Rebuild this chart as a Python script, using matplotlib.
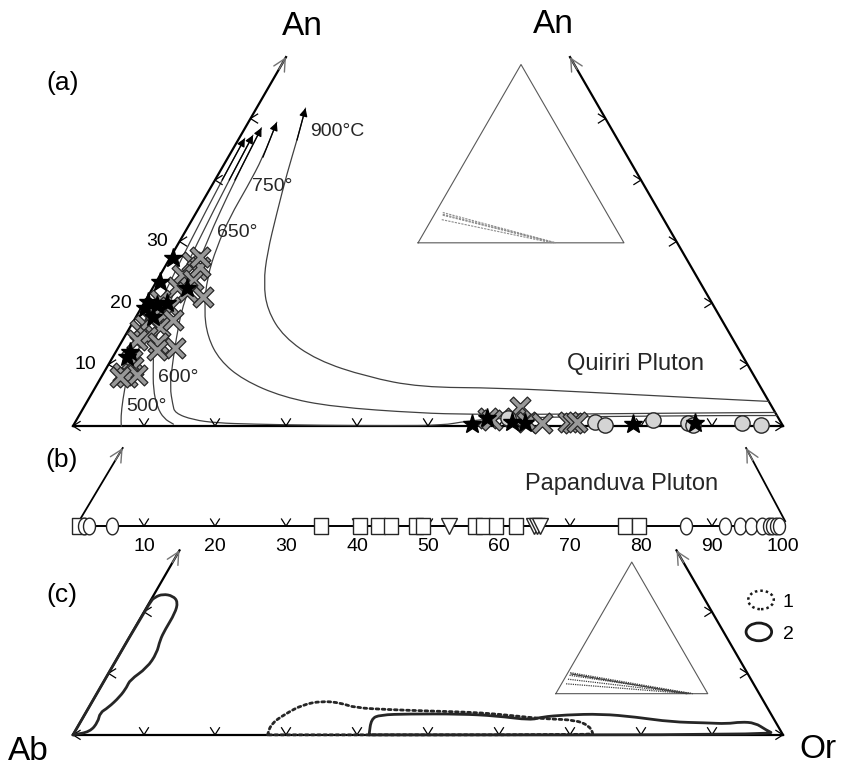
import numpy as np
import matplotlib
matplotlib.use('Agg')
import matplotlib.pyplot as plt
from matplotlib.patches import Ellipse, PathPatch
from matplotlib.path import Path

plt.rcParams['font.family'] = ['Liberation Sans', 'DejaVu Sans']

# ---------- data (mol %) ----------
# (a) Quiriri Pluton feldspars
x_an = [26.7, 25.4, 24.6, 23.7, 22.6, 21.8, 21.0, 20.5, 19.4, 18.5, 18.1, 17.6, 16.4, 15.6,
        16.1, 17.2, 14.5, 13.5, 14.0, 12.7, 12.4, 10.7, 9.6, 8.6, 8.0, 8.3, 8.0, 25.9, 27.5,
        1.3, 1.0, 3.1, 1.3, 0.65, 0.5, 0.65, 0.5, 0.65]
x_or = [3.4, 4.8, 3.05, 5.05, 3.35, 5.16, 7.8, 2.0, 3.96, 2.3, 3.63, 2.05, 1.94, 1.64,
        4.2, 5.48, 3.17, 5.22, 2.0, 8.0, 5.63, 2.96, 3.65, 2.74, 3.6, 4.86, 2.62, 5.0, 4.2,
        57.8, 58.5, 61.4, 61.6, 63.6, 65.8, 69.4, 70.2, 70.7]
s_an = [27.3, 23.4, 20.2, 19.2, 19.7, 20.0, 22.4, 17.7, 12.0, 11.2,
        0.33, 1.3, 0.65, 0.5, 0.33, 0.5]
s_or = [0.4, 0.55, 0.46, 0.54, 1.98, 3.24, 4.86, 2.4, 2.0, 2.0,
        56.0, 57.7, 61.5, 63.4, 78.7, 87.4]
c_an = [1.3, 0.65, 0.16, 1.0, 0.5, 0.16, 0.5, 0.16]
c_or = [60.6, 73.2, 74.9, 81.2, 86.4, 87.3, 94.0, 96.8]

# isotherms (An, Or)
iso500_an = [46.8, 40, 30, 20, 12, 8, 4.2, 1.5, 0]
iso500_or = [0.8, 1.0, 1.5, 2.2, 3.0, 3.6, 4.9, 6.0, 6.8]
iso600_an = [47.3, 40, 30, 20, 13.5, 9.6, 6, 3.1, 1.2, 0.3]
iso600_or = [1.7, 2.0, 2.6, 3.5, 4.6, 6.5, 8.3, 10.3, 12.2, 14.0]
iso650_an = [48.5, 40, 30, 20, 14, 10, 6.3, 3.5, 2.1, 1.0, 0.5, 0.3, 0.1, 0.05, 0.1, 0.8, 1.3, 1.5, 1.6, 1.7, 1.7]
iso650_or = [2.3, 2.8, 3.8, 5.5, 7.5, 9.0, 10.5, 12.3, 13.3, 16.4, 20, 25, 35, 45, 52, 55, 60, 70, 80, 90, 98.3]
iso750_an = [49.4, 43.7, 38.9, 34.0, 29.1, 24.2, 18.9, 14.5, 10.7, 7.5, 4.7, 3.1, 2.1, 1.9, 1.9, 2.0, 2.1, 2.2]
iso750_or = [4.0, 4.9, 5.1, 5.1, 5.7, 6.8, 9.0, 11.7, 15.3, 20.2, 27.2, 35.1, 47.8, 55, 65, 75, 85, 97.8]
iso900_an = [51.7, 46.5, 41.1, 34.6, 28.1, 23.3, 18.9, 14.5, 10.7, 8.0, 6.3, 6.2, 5.4, 4.55, 4.0]
iso900_or = [6.9, 8.3, 9.6, 11.4, 13.3, 15.2, 17.9, 22.4, 29.0, 37.4, 45.7, 57.0, 71.5, 86.0, 96.0]

# (b) Papanduva Pluton, Or content on the Ab-Or join
b_sq = [0.8, 34.9, 40.4, 42.9, 44.8, 48.3, 49.3, 56.6, 57.8, 59.6, 62.4, 77.8, 79.7]
b_ci = [1.5, 2.2, 5.5, 86.4, 91.9, 94.0, 95.5, 97.0, 98.0, 98.5, 99.0, 99.4]
b_tr = [53.0, 64.9, 65.4, 65.8]

# (c) fields
f0_an = [0, 0.49, 2.1, 3.6, 4.4, 6.2, 7.8, 8.9, 10.9, 13.3, 15.4, 17.1, 19.8, 21.6, 22.6, 22.9, 22.4, 21.6, 0]
f0_or = [0, 2.15, 2.47, 2.0, 2.73, 3.5, 3.7, 3.56, 4.97, 5.16, 4.55, 4.42, 4.47, 3.98, 2.78, 1.2, 0.35, 0, 0]
f1_an = [0, 1.8, 3.4, 4.9, 5.5, 5.2, 4.4, 4.1, 3.9, 3.7, 3.4, 2.8, 2.6, 2.4, 1.5, 0.3, 0, 0]
f1_or = [27.4, 27.0, 28.2, 29.9, 32.3, 35.1, 37.5, 42.6, 47.6, 53.6, 57.9, 63.1, 65.6, 69.6, 71.9, 73.1, 73.1, 27.4]
f2_an = [0, 2.6, 3.25, 3.4, 3.4, 3.1, 2.4, 2.9, 3.25, 3.4, 2.9, 2.1, 1.95, 1.8, 2.1, 1.95, 0.8, 0, 0]
f2_or = [41.7, 40.7, 41.6, 45.5, 52.9, 58.0, 63.3, 64.5, 67.8, 72.7, 77.8, 83.2, 88.2, 91.2, 93.0, 95.1, 97.2, 99.0, 41.7]

# inset tie lines (An, Or) start -> end
ia_an0 = [17.0, 16.0, 15.5, 13.0]
ia_or0 = [3.5, 4.0, 4.2, 5.0]
ia_or1 = [67.0, 66.5, 66.0, 65.0]
ic_an0 = [16.0, 14.0, 11.0, 7.5, 15.0]
ic_or0 = [1.5, 2.0, 2.5, 3.0, 2.5]
ic_or1 = [90.0, 90.0, 89.0, 88.0, 86.0]

ticks = [10, 20, 30, 40, 50, 60, 70, 80, 90]

# ---------- helpers ----------
S3 = np.sqrt(3) / 2
YB, YC = -14.1, -43.5


def tern(an, orr, x0=0.0, y0=0.0, s=1.0):
    an = np.asarray(an, float)
    orr = np.asarray(orr, float)
    return x0 + s * (orr + an / 2), y0 + s * an * S3


def smooth(ax, xs, ys, **kw):
    # quadratic b-spline through midpoints, drawn as a Path
    p = np.column_stack([xs, ys])
    verts = [p[0], (p[0] + p[1]) / 2]
    codes = [Path.MOVETO, Path.LINETO]
    for i in range(1, len(p) - 1):
        verts += [p[i], (p[i] + p[i + 1]) / 2]
        codes += [Path.CURVE3, Path.CURVE3]
    verts.append(p[-1])
    codes.append(Path.LINETO)
    ax.add_patch(PathPatch(Path(verts, codes), fill=False, capstyle='round', joinstyle='round', **kw))


def chevrons(ax, xs, ys, kind, w=0.63, h=1.0):
    px, py = [], []
    for x, y in zip(np.atleast_1d(xs), np.atleast_1d(ys)):
        if kind == 'down':
            px += [x - w, x, x + w, np.nan]; py += [y + h, y, y + h, np.nan]
        elif kind == 'left':
            px += [x + h, x, x + h, np.nan]; py += [y + w, y, y - w, np.nan]
        else:
            px += [x - h, x, x - h, np.nan]; py += [y + w, y, y - w, np.nan]
    ax.plot(px, py, color='black', lw=0.9, zorder=3)


def edge_arrow(ax, p0, p1, lw=1.6):
    ax.plot([p0[0], p1[0]], [p0[1], p1[1]], color='black', lw=lw, zorder=2)
    d = np.array(p1) - np.array(p0)
    back = np.array(p1) - d / np.hypot(*d) * 2.0
    ax.annotate('', xy=p1, xytext=back,
                arrowprops=dict(arrowstyle='->', color='0.45', lw=1.0,
                                mutation_scale=22, shrinkA=0, shrinkB=0))


ell = np.linspace(0, 2 * np.pi, 50)
ell_marker = Path(np.column_stack([0.72 * np.cos(ell), np.sin(ell)]))
sq_marker = Path([(-0.43, -0.5), (0.43, -0.5), (0.43, 0.5), (-0.43, 0.5), (-0.43, -0.5)])
t = 0.2
plus = np.array([(t, t), (t, 1), (-t, 1), (-t, t), (-1, t), (-1, -t), (-t, -t),
                 (-t, -1), (t, -1), (t, -t), (1, -t), (1, t), (t, t)])
rot = np.array([[1, -1], [1, 1]]) / np.sqrt(2)
x_marker = Path(plus @ rot.T)

fig = plt.figure(figsize=(8.46, 7.66), dpi=100)
ax = fig.add_axes([0, 0, 1, 1])
ax.set_xlim(-73 / 7.1, (846 - 73) / 7.1)
ax.set_ylim(-(766 - 426) / 7.1, 426 / 7.1)
ax.axis('off')

# ---------- (a) ----------
edge_arrow(ax, tern(0, 0), tern(60, 0))
edge_arrow(ax, tern(0, 100), tern(60, 40))
ax.plot(*tern([0, 0], [0, 100]), color='black', lw=1.6, zorder=2)
chevrons(ax, *tern(np.zeros(9), ticks), 'down')
chevrons(ax, *tern([10, 20, 30, 40, 50], np.zeros(5)), 'left')
chevrons(ax, *tern([10, 20, 30, 40, 50], [90, 80, 70, 60, 50]), 'right')
chevrons(ax, *tern(0, 0), 'left')
chevrons(ax, *tern(0, 100), 'right')
for v in [10, 20, 30]:
    x, y = tern(v, 0)
    ax.text(x - 3.2, y, str(v), fontsize=14, ha='center', va='center')

for an, orr in [(iso500_an, iso500_or), (iso600_an, iso600_or), (iso650_an, iso650_or),
                (iso750_an, iso750_or), (iso900_an, iso900_or)]:
    xs, ys = tern(an, orr)
    smooth(ax, xs, ys, ec='0.25', lw=0.9, zorder=2)
    ax.annotate('', xy=(xs[0], ys[0]), xytext=(xs[1], ys[1]),
                arrowprops=dict(arrowstyle='-|>', color='black', lw=0.9,
                                mutation_scale=12, shrinkA=0, shrinkB=0))

for txt, (x, y) in [('500°', (10.4, 2.7)), ('600°', (14.8, 6.9)), ('650°', (23.1, 27.2)),
                    ('750°', (28.0, 33.7)), ('900°C', (37.2, 41.5))]:
    ax.text(x, y, txt, fontsize=14, ha='center', va='center', color='0.15')

ax.plot(*tern(x_an, x_or), ls='none', marker=x_marker, ms=15, mfc='0.6', mec='0.15', mew=0.9, zorder=4)
ax.plot(*tern(c_an, c_or), 'o', ms=11, mfc='0.83', mec='0.15', mew=1.0, ls='none', zorder=5)
ax.plot(*tern(s_an, s_or), '*', ms=14, mfc='black', mec='black', ls='none', zorder=6)

# inset (a)
ia = dict(x0=48.6, y0=25.8, s=0.29)
ax.plot(*tern([0, 100, 0, 0], [0, 0, 100, 0], **ia), color='0.35', lw=0.8)
for a0, o0, o1 in zip(ia_an0, ia_or0, ia_or1):
    ax.plot(*tern([a0, 0], [o0, o1], **ia), color='0.55', lw=0.8, ls=(0, (2, 1)))

ax.text(-1.4, 48.3, '(a)', fontsize=19, ha='center', va='center')
ax.text(32.3, 56.2, 'An', fontsize=24, ha='center', va='center')
ax.text(67.6, 56.5, 'An', fontsize=24, ha='center', va='center')
ax.text(79.2, 8.7, 'Quiriri Pluton', fontsize=17, ha='center', va='center', color='0.15')

# ---------- (b) ----------
ax.plot([0, 100], [YB, YB], color='black', lw=1.4, zorder=2)
chevrons(ax, ticks, np.full(9, YB), 'down')
chevrons(ax, [0], [YB], 'left')
chevrons(ax, [100], [YB], 'right')
for v in ticks + [100]:
    ax.text(v, YB - 2.9, str(v), fontsize=14, ha='center', va='center')
ax.plot(b_sq, np.full(len(b_sq), YB), ls='none', marker=sq_marker, ms=12, mfc='white', mec='0.15', mew=1.0, zorder=4)
ax.plot(b_ci, np.full(len(b_ci), YB), ls='none', marker=ell_marker, ms=12, mfc='white', mec='0.15', mew=1.0, zorder=4)
ax.plot(b_tr, np.full(len(b_tr), YB), ls='none', marker='v', ms=11, mfc='white', mec='0.15', mew=1.0, zorder=4)
edge_arrow(ax, (0.85, -13.4), (7.0, -3.1), lw=1.3)
edge_arrow(ax, (100.3, -13.4), (94.8, -3.1), lw=1.3)
ax.text(-1.55, -4.8, '(b)', fontsize=19, ha='center', va='center')
ax.text(77.3, -8.2, 'Papanduva Pluton', fontsize=17, ha='center', va='center', color='0.15')

# ---------- (c) ----------
cc = dict(y0=YC)
edge_arrow(ax, tern(0, 0, **cc), tern(30, 0, **cc))
edge_arrow(ax, tern(0, 100, **cc), tern(30, 70, **cc))
ax.plot(*tern([0, 0], [0, 100], **cc), color='black', lw=1.6, zorder=2)
chevrons(ax, *tern(np.zeros(9), ticks, **cc), 'down')
chevrons(ax, *tern([10, 20], [0, 0], **cc), 'left')
chevrons(ax, *tern([10, 20], [90, 80], **cc), 'right')
chevrons(ax, *tern(0, 0, **cc), 'left')
chevrons(ax, *tern(0, 100, **cc), 'right')

smooth(ax, *tern(f0_an, f0_or, **cc), ec='0.15', lw=2.0, zorder=3)
smooth(ax, *tern(f2_an, f2_or, **cc), ec='0.15', lw=2.0, zorder=3)
smooth(ax, *tern(f1_an, f1_or, **cc), ec='0.15', lw=2.0, ls=(0, (1, 1.2)), zorder=3)

ic = dict(x0=68.0, y0=-37.7, s=0.214)
ax.plot(*tern([0, 100, 0, 0], [0, 0, 100, 0], **ic), color='0.35', lw=0.8)
for i, (a0, o0, o1) in enumerate(zip(ic_an0, ic_or0, ic_or1)):
    ax.plot(*tern([a0, 0], [o0, o1], **ic), color='0.25', lw=0.9,
            ls='-' if i == 4 else (0, (1, 0.8)))

ax.add_patch(Ellipse((96.9, -24.5), 3.6, 2.6, fill=False, ec='0.1', lw=1.8, ls=(0, (1, 1.2))))
ax.add_patch(Ellipse((96.6, -29.0), 3.6, 2.5, fill=False, ec='0.1', lw=2.0))
ax.text(100.7, -24.8, '1', fontsize=14, ha='center', va='center')
ax.text(100.8, -29.3, '2', fontsize=14, ha='center', va='center')

ax.text(-1.55, -23.8, '(c)', fontsize=19, ha='center', va='center')
ax.text(-6.3, -45.9, 'Ab', fontsize=24, ha='center', va='center')
ax.text(104.9, -45.6, 'Or', fontsize=24, ha='center', va='center')

fig.savefig('out.png', dpi=100)
